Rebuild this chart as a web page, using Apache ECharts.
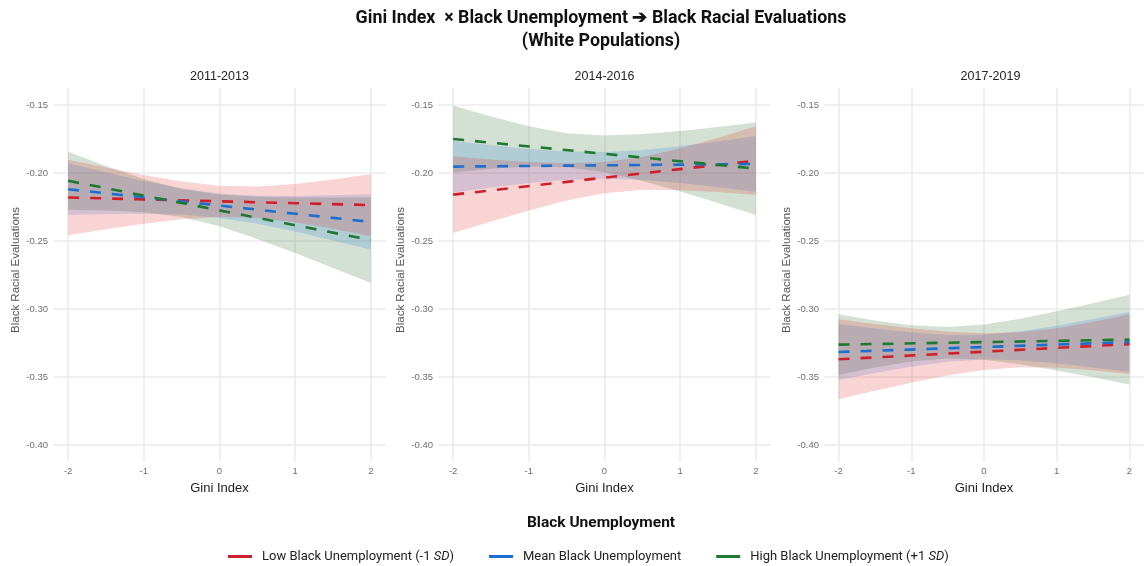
<!DOCTYPE html>
<html>
<head>
<meta charset="utf-8">
<title>Gini Index × Black Unemployment → Black Racial Evaluations</title>
<script src="https://cdn.jsdelivr.net/npm/echarts@6.0.0/dist/echarts.min.js"></script>
<style>
  html, body { margin: 0; padding: 0; background: #ffffff; }
  #chart { width: 1144px; height: 566px; }
</style>
</head>
<body>
<div id="chart"></div>
<script>
// ---- Data -------------------------------------------------------------
const periods = ['2011-2013', '2014-2016', '2017-2019'];
const groups = ['Low Black Unemployment (-1 SD)', 'Mean Black Unemployment', 'High Black Unemployment (+1 SD)'];
const xTicks = [-2, -1, 0, 1, 2];
const yTicks = [-0.40, -0.35, -0.30, -0.25, -0.20, -0.15];

// Gini index (standardised) positions where the confidence bands are given
const bandX = [-2, -1.5, -1, -0.5, 0, 0.5, 1, 1.5, 2];
// Fitted lines are straight: values at Gini = -2 and Gini = 2
const fitX = [-2, 2];

// 2011-2013
const p1LowFit = [-0.2180, -0.2236];
const p1LowLower = [-0.2458, -0.2414, -0.2373, -0.2340, -0.2322, -0.2330, -0.2363, -0.2410, -0.2465];
const p1LowUpper = [-0.1902, -0.1960, -0.2015, -0.2062, -0.2094, -0.2100, -0.2081, -0.2048, -0.2007];
const p1MeanFit = [-0.2119, -0.2360];
const p1MeanLower = [-0.2309, -0.2302, -0.2299, -0.2306, -0.2330, -0.2374, -0.2431, -0.2496, -0.2564];
const p1MeanUpper = [-0.1929, -0.1996, -0.2059, -0.2112, -0.2150, -0.2167, -0.2169, -0.2164, -0.2156];
const p1HighFit = [-0.2057, -0.2493];
const p1HighLower = [-0.2270, -0.2275, -0.2288, -0.2324, -0.2392, -0.2485, -0.2588, -0.2698, -0.2808];
const p1HighUpper = [-0.1844, -0.1949, -0.2044, -0.2118, -0.2158, -0.2175, -0.2180, -0.2181, -0.2178];

// 2014-2016
const p2LowFit = [-0.2159, -0.1909];
const p2LowLower = [-0.2441, -0.2356, -0.2275, -0.2202, -0.2148, -0.2124, -0.2126, -0.2140, -0.2161];
const p2LowUpper = [-0.1877, -0.1900, -0.1919, -0.1928, -0.1920, -0.1882, -0.1818, -0.1740, -0.1657];
const p2MeanFit = [-0.1953, -0.1934];
const p2MeanLower = [-0.2143, -0.2106, -0.2073, -0.2050, -0.2042, -0.2051, -0.2074, -0.2104, -0.2138];
const p2MeanUpper = [-0.1763, -0.1796, -0.1823, -0.1842, -0.1846, -0.1831, -0.1804, -0.1768, -0.1730];
const p2HighFit = [-0.1750, -0.1968];
const p2HighLower = [-0.1996, -0.1969, -0.1953, -0.1957, -0.1994, -0.2058, -0.2136, -0.2221, -0.2308];
const p2HighUpper = [-0.1504, -0.1585, -0.1657, -0.1707, -0.1724, -0.1714, -0.1692, -0.1661, -0.1628];

// 2017-2019
const p3LowFit = [-0.3370, -0.3258];
const p3LowLower = [-0.3664, -0.3601, -0.3542, -0.3489, -0.3449, -0.3429, -0.3431, -0.3450, -0.3478];
const p3LowUpper = [-0.3076, -0.3111, -0.3142, -0.3167, -0.3179, -0.3171, -0.3141, -0.3094, -0.3038];
const p3MeanFit = [-0.3316, -0.3243];
const p3MeanLower = [-0.3522, -0.3471, -0.3424, -0.3387, -0.3370, -0.3376, -0.3399, -0.3430, -0.3464];
const p3MeanUpper = [-0.3110, -0.3143, -0.3172, -0.3191, -0.3190, -0.3164, -0.3123, -0.3074, -0.3022];
const p3HighFit = [-0.3262, -0.3225];
const p3HighLower = [-0.3485, -0.3430, -0.3386, -0.3364, -0.3374, -0.3407, -0.3452, -0.3502, -0.3555];
const p3HighUpper = [-0.3039, -0.3084, -0.3120, -0.3132, -0.3114, -0.3071, -0.3017, -0.2958, -0.2895];

// ---- Styling ----------------------------------------------------------
const lineColors = ['#cf1f29', '#1b6fd1', '#1c7a2f'];
const fillColors = ['rgba(222, 24, 24, 0.19)', 'rgba(28, 122, 228, 0.19)', 'rgba(20, 92, 22, 0.19)'];
const bandOrder = [2, 1, 0];   // high band underneath, low band on top
const panelLeft = [53, 438, 824];
const panelWidth = 333;
const panelTop = 88;
const panelHeight = 374;
const tickFont = 'Liberation Sans, Arial, sans-serif';
const headFont = 'Roboto, Liberation Sans, sans-serif';

const panelData = [
  { fits: [p1LowFit, p1MeanFit, p1HighFit], lowers: [p1LowLower, p1MeanLower, p1HighLower], uppers: [p1LowUpper, p1MeanUpper, p1HighUpper] },
  { fits: [p2LowFit, p2MeanFit, p2HighFit], lowers: [p2LowLower, p2MeanLower, p2HighLower], uppers: [p2LowUpper, p2MeanUpper, p2HighUpper] },
  { fits: [p3LowFit, p3MeanFit, p3HighFit], lowers: [p3LowLower, p3MeanLower, p3HighLower], uppers: [p3LowUpper, p3MeanUpper, p3HighUpper] }
];

const grids = [], xAxes = [], yAxes = [], series = [];
const titles = [{
  text: 'Gini Index  \u00d7 Black Unemployment \u2794 Black Racial Evaluations\n(White Populations)',
  left: 596, top: 2, textAlign: 'center',
  textStyle: { fontFamily: headFont, fontSize: 17.8, fontWeight: 'bold', color: '#111111', lineHeight: 23 }
}, {
  text: 'Black Unemployment',
  left: 596, top: 510, textAlign: 'center',
  textStyle: { fontFamily: headFont, fontSize: 15.5, fontWeight: 'bold', color: '#111111' }
}];

// polygon between the lower and upper bounds of one confidence band
function bandRenderer(lower, upper, fill) {
  return function (params, api) {
    if (params.dataIndex !== 0) return;
    const top = bandX.map((x, j) => api.coord([x, upper[j]]));
    const bottom = bandX.map((x, j) => api.coord([x, lower[j]])).reverse();
    return {
      type: 'polygon',
      shape: { points: top.concat(bottom) },
      style: { fill: fill }
    };
  };
}

periods.forEach((period, i) => {
  grids.push({ left: panelLeft[i], top: panelTop, width: panelWidth, height: panelHeight, containLabel: false });
  titles.push({
    text: period, left: panelLeft[i] + panelWidth / 2 - 5, top: 65, textAlign: 'center',
    textStyle: { fontFamily: tickFont, fontSize: 12.5, fontWeight: 'normal', color: '#222222' }
  });
  xAxes.push({
    type: 'value', gridIndex: i, min: -2.2, max: 2.2,
    name: 'Gini Index', nameLocation: 'middle', nameGap: 20,
    nameTextStyle: { fontFamily: tickFont, fontSize: 13, color: '#222222' },
    axisLine: { show: false },
    axisTick: { show: false, customValues: xTicks },
    axisLabel: { customValues: xTicks, margin: 4, fontFamily: tickFont, fontSize: 9.5, color: '#6e6e6e',
      formatter: v => String(v) },
    splitLine: { show: true, lineStyle: { color: '#ebebeb', width: 1.5 } }
  });
  yAxes.push({
    type: 'value', gridIndex: i, min: -0.4125, max: -0.1375,
    name: 'Black Racial Evaluations', nameLocation: 'middle', nameGap: 31, nameRotate: 90,
    nameTextStyle: { fontFamily: tickFont, fontSize: 11.5, color: '#555555', padding: [0, 0, 0, 10] },
    axisLine: { show: false },
    axisTick: { show: false, customValues: yTicks },
    axisLabel: { customValues: yTicks, margin: 5, fontFamily: tickFont, fontSize: 9.5, color: '#6e6e6e',
      formatter: v => v.toFixed(2) },
    splitLine: { show: true, lineStyle: { color: '#ebebeb', width: 1.5 } }
  });

  const pd = panelData[i];
  // shaded confidence bands
  bandOrder.forEach(k => {
    const lower = pd.lowers[k], upper = pd.uppers[k];
    series.push({
      type: 'custom', xAxisIndex: i, yAxisIndex: i, silent: true, z: 1, clip: true,
      data: bandX.map((x, j) => [x, lower[j], upper[j]]),
      encode: { x: 0, y: [1, 2] },
      renderItem: bandRenderer(lower, upper, fillColors[k])
    });
  });
  // fitted dashed lines
  groups.forEach((g, k) => {
    series.push({
      name: g, type: 'line', xAxisIndex: i, yAxisIndex: i,
      data: fitX.map((x, j) => [x, pd.fits[k][j]]),
      symbol: 'none', z: 3, color: lineColors[k],
      lineStyle: { color: lineColors[k], width: 2.6, type: [11, 11] }
    });
  });
});

const chart = echarts.init(document.getElementById('chart'), null, { renderer: 'canvas' });
chart.setOption({
  backgroundColor: '#ffffff',
  animation: false,
  title: titles,
  grid: grids,
  xAxis: xAxes,
  yAxis: yAxes,
  legend: {
    data: groups.map(name => ({ name, icon: 'rect' })),
    left: 223, top: 545,
    itemWidth: 24, itemHeight: 3, itemGap: 35,
    formatter: name => name.replace('SD', '{i|SD}'),
    textStyle: {
      fontFamily: headFont, fontSize: 13, color: '#222222', padding: [0, 0, 0, 5],
      rich: { i: { fontFamily: headFont, fontSize: 13, fontStyle: 'italic', color: '#222222' } }
    }
  },
  series: series
});
</script>
</body>
</html>
